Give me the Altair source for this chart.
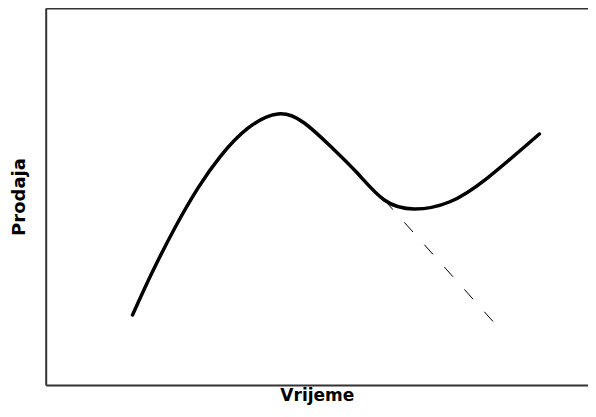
import altair as alt
import pandas as pd

# Main sales curve (arbitrary units)
curve_x = [1.574, 1.931, 2.348, 2.765, 3.164, 3.654, 4.209, 4.687, 5.177, 5.648, 6.138, 6.682, 7.316, 8.005, 8.948]
curve_y = [1.910, 3.035, 4.223, 5.266, 6.084, 6.819, 7.207, 6.970, 6.337, 5.652, 4.941, 4.704, 4.888, 5.520, 6.680]

# Dashed continuation of the decline
dash_x = [6.138, 8.133]
dash_y = [4.941, 1.700]

curve = pd.DataFrame({"t": curve_x, "s": curve_y})
dashed = pd.DataFrame({"t": dash_x, "s": dash_y})

xs = alt.Scale(domain=[0, 9.83], nice=False, zero=False)
ys = alt.Scale(domain=[0.066, 10], nice=False, zero=False)

frame = dict(ticks=False, labels=False, grid=False, domain=True,
             domainColor="#333333", domainWidth=2)

xax = alt.Axis(title="Vrijeme", titleFont="DejaVu Sans", titleFontWeight="bold",
               titleFontSize=17, titleColor="black", titleBaseline="alphabetic",
               titlePadding=15.5, **frame)
xtop = alt.Axis(orient="top", title=None, **frame)
yax = alt.Axis(title="Prodaja", titleFont="DejaVu Sans", titleFontWeight="bold",
               titleFontSize=18, titleColor="black", titleBaseline="alphabetic",
               titlePadding=21, **frame)

line = alt.Chart(curve).mark_line(color="black", strokeWidth=3.5, interpolate="natural",
                                  strokeCap="round").encode(
    x=alt.X("t:Q", scale=xs, axis=xax),
    y=alt.Y("s:Q", scale=ys, axis=yax),
)

dash = alt.Chart(dashed).mark_line(color="black", strokeWidth=1, strokeDash=[13, 17]).encode(
    x=alt.X("t:Q", scale=xs, axis=xtop),
    y=alt.Y("s:Q", scale=ys),
)

chart = alt.layer(line, dash).resolve_axis(x="independent").properties(
    width=542.3, height=377,
    autosize=alt.AutoSizeParams(type="none"),
    padding={"left": 37.7, "top": 0, "right": 0, "bottom": 20},
).configure(background="white").configure_view(stroke=None)

chart.save("out.html", embed_options={"renderer": "svg", "actions": False})
